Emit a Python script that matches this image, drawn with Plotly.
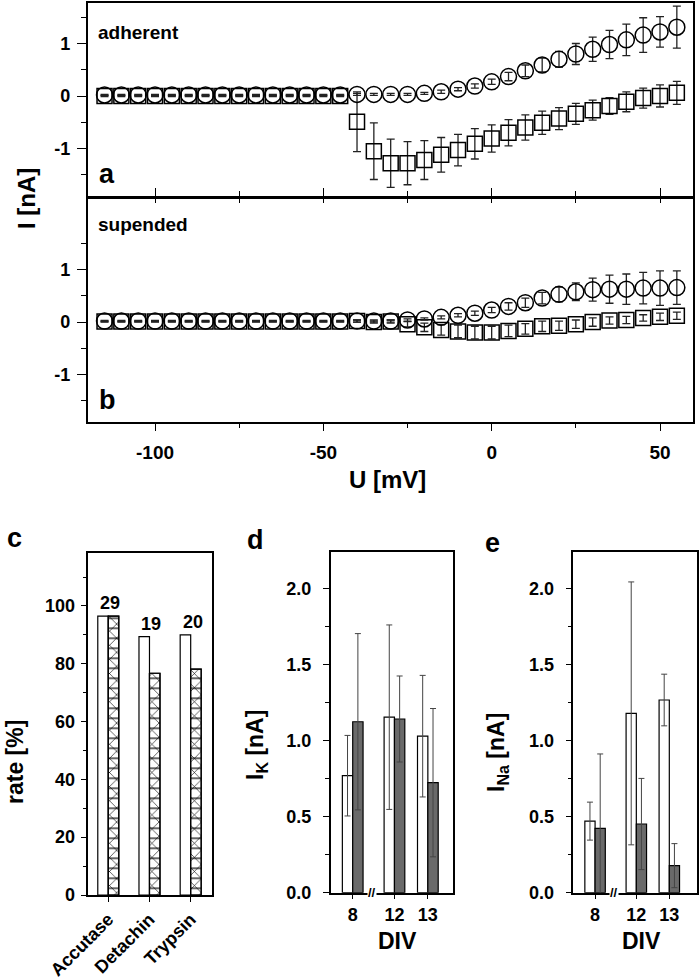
import plotly.graph_objects as go

# ---------------- data ----------------
U_mV = [-115, -110, -105, -100, -95, -90, -85, -80, -75, -70, -65, -60, -55, -50, -45,
        -40, -35, -30, -25, -20, -15, -10, -5, 0, 5, 10, 15, 20, 25, 30, 35, 40, 45, 50, 55]
U_ticks = [-100, -50, 0, 50]
U_ticktext = ["-100", "-50", "0", "50"]
I_ticks = [-1, 0, 1]
I_ticktext = ["-1", "0", "1"]

adh_circle = [0.02, 0.02, 0.02, 0.02, 0.02, 0.02, 0.02, 0.02, 0.02, 0.02, 0.02, 0.02, 0.02, 0.02, 0.02,
              0.03, 0.03, 0.03, 0.03, 0.05, 0.08, 0.13, 0.19, 0.27, 0.37, 0.48, 0.59, 0.70, 0.80, 0.89,
              0.98, 1.07, 1.16, 1.22, 1.31]
adh_circle_err = [0.01, 0.01, 0.01, 0.01, 0.01, 0.01, 0.01, 0.01, 0.01, 0.01, 0.01, 0.01, 0.01, 0.01, 0.01,
                  0.02, 0.02, 0.02, 0.02, 0.02, 0.03, 0.03, 0.04, 0.05, 0.08, 0.11, 0.13, 0.15, 0.20, 0.23,
                  0.27, 0.30, 0.33, 0.29, 0.40]
adh_square = [0.0, 0.0, 0.0, 0.0, 0.0, 0.0, 0.0, 0.0, 0.0, 0.0, 0.0, 0.0, 0.0, 0.0, 0.0,
              -0.49, -1.05, -1.28, -1.28, -1.22, -1.12, -1.03, -0.91, -0.81, -0.70, -0.60, -0.51, -0.43,
              -0.34, -0.27, -0.19, -0.11, -0.04, 0.0, 0.06]
adh_square_err = [0.01, 0.01, 0.01, 0.01, 0.01, 0.01, 0.01, 0.01, 0.01, 0.01, 0.01, 0.01, 0.01, 0.01, 0.01,
                  0.57, 0.54, 0.46, 0.41, 0.37, 0.33, 0.30, 0.29, 0.26, 0.25, 0.24, 0.22, 0.21, 0.20, 0.19,
                  0.16, 0.19, 0.19, 0.21, 0.22]

sus_circle = [0.02, 0.02, 0.02, 0.02, 0.02, 0.02, 0.02, 0.02, 0.02, 0.02, 0.02, 0.02, 0.02, 0.02, 0.02,
              0.02, 0.02, 0.02, 0.04, 0.06, 0.09, 0.13, 0.17, 0.23, 0.30, 0.37, 0.46, 0.53, 0.58, 0.62,
              0.63, 0.63, 0.65, 0.65, 0.66]
sus_circle_err = [0.01, 0.01, 0.01, 0.01, 0.01, 0.01, 0.01, 0.01, 0.01, 0.01, 0.01, 0.01, 0.01, 0.01, 0.01,
                  0.02, 0.02, 0.02, 0.02, 0.02, 0.03, 0.03, 0.04, 0.05, 0.07, 0.09, 0.11, 0.14, 0.17, 0.22,
                  0.27, 0.29, 0.30, 0.33, 0.32]
sus_square = [0.01, 0.01, 0.01, 0.01, 0.01, 0.01, 0.01, 0.01, 0.01, 0.01, 0.01, 0.01, 0.01, 0.01, 0.01,
              0.02, 0.0, 0.01, -0.04, -0.10, -0.15, -0.18, -0.20, -0.20, -0.17, -0.13, -0.08, -0.07, -0.04,
              0.0, 0.03, 0.04, 0.08, 0.10, 0.12]
sus_square_err = [0.01, 0.01, 0.01, 0.01, 0.01, 0.01, 0.01, 0.01, 0.01, 0.01, 0.01, 0.01, 0.01, 0.01, 0.01,
                  0.02, 0.02, 0.03, 0.05, 0.08, 0.10, 0.12, 0.12, 0.12, 0.11, 0.10, 0.10, 0.09, 0.08, 0.08,
                  0.07, 0.07, 0.06, 0.07, 0.07]

methods = ["Accutase", "Detachin", "Trypsin"]
rate_open = [96.5, 89.4, 90.0]
rate_hatched = [96.5, 76.7, 78.1]
n_cells = ["29", "19", "20"]

div_labels = ["8", "12", "13"]
ik_open = [0.77, 1.155, 1.03]
ik_open_err = [0.265, 0.607, 0.40]
ik_dark = [1.125, 1.143, 0.724]
ik_dark_err = [0.58, 0.283, 0.488]
ina_open = [0.471, 1.18, 1.268]
ina_open_err = [0.125, 0.865, 0.17]
ina_dark = [0.423, 0.452, 0.178]
ina_dark_err = [0.49, 0.30, 0.145]

# ---------------- layout helpers ----------------
W, H = 700, 979
def fx(p):
    return p / W
def fy(p):
    return 1 - p / H

slot_pos = [0, 1.25, 2.25]  # broken DIV axis slots
BW = 0.31
BOLD = dict(family="Liberation Sans, Arial, sans-serif", color="black", weight="bold")

fig = go.Figure()

def scatter(x, y, err, symbol, size, xa, ya):
    fig.add_trace(go.Scatter(
        x=x, y=y, mode="markers", xaxis=xa, yaxis=ya, showlegend=False,
        marker=dict(symbol=symbol, size=size, color="black", line=dict(width=1.5, color="black")),
        error_y=dict(type="data", array=err, color="#222", thickness=1.3, width=4)))

scatter(U_mV, adh_square, adh_square_err, "square-open", 15, "x", "y")
scatter(U_mV, adh_circle, adh_circle_err, "circle-open", 16, "x", "y")
scatter(U_mV, sus_square, sus_square_err, "square-open", 15, "x2", "y2")
scatter(U_mV, sus_circle, sus_circle_err, "circle-open", 16, "x2", "y2")

# panel c
CW = 0.255
fig.add_trace(go.Bar(x=methods, y=rate_open, xaxis="x3", yaxis="y3", offset=-CW, width=CW,
                     marker=dict(color="white", line=dict(color="black", width=1.2)), showlegend=False))
fig.add_trace(go.Bar(x=methods, y=rate_hatched, xaxis="x3", yaxis="y3", offset=0, width=CW,
                     marker=dict(color="white", line=dict(color="black", width=1.2),
                                 pattern=dict(shape="x", size=10, solidity=0.12, fgcolor="black", bgcolor="white")),
                     showlegend=False))
fig.add_trace(go.Bar(x=methods, y=rate_hatched, xaxis="x3", yaxis="y3", offset=0, width=CW,
                     marker=dict(color="rgba(0,0,0,0)", line=dict(color="black", width=1.2),
                                 pattern=dict(shape="-", size=10, solidity=0.12, fgcolor="black",
                                              bgcolor="rgba(0,0,0,0)")),
                     showlegend=False))

# panels d, e
def bars(vals, errs, color, offset, xa, ya):
    fig.add_trace(go.Bar(x=slot_pos, y=vals, xaxis=xa, yaxis=ya, offset=offset, width=BW,
                         marker=dict(color=color, line=dict(color="black", width=1.2)),
                         error_y=dict(type="data", array=errs, color="#444", thickness=1, width=3),
                         showlegend=False))

bars(ik_open, ik_open_err, "white", -BW, "x4", "y4")
bars(ik_dark, ik_dark_err, "#6a6a6a", 0, "x4", "y4")
bars(ina_open, ina_open_err, "white", -BW, "x5", "y5")
bars(ina_dark, ina_dark_err, "#6a6a6a", 0, "x5", "y5")

tickfont = dict(BOLD, size=18)
common = dict(showline=True, linecolor="black", linewidth=1.5, showgrid=False, zeroline=False,
              ticks="outside", tickcolor="black", tickwidth=1.3, automargin=False)

xr_top = [-120, 59.8]
xdom_top = [fx(87.7), fx(693)]
fig.update_layout(
    template="none",
    width=W, height=H, margin=dict(l=0, r=0, t=0, b=0, autoexpand=False),
    paper_bgcolor="white", plot_bgcolor="white", barmode="overlay",
    xaxis=dict(common, domain=xdom_top, range=xr_top, anchor="y", mirror=True,
               tickvals=U_ticks, ticklen=5, showticklabels=False,
               minor=dict(tickvals=[-75, -25, 25], ticklen=5, ticks="outside", tickcolor="black")),
    yaxis=dict(common, domain=[fy(196.7), fy(2.7)], range=[-1.918, 1.777], anchor="x", mirror=True,
               tickvals=I_ticks, ticktext=I_ticktext, ticklen=9, tickfont=tickfont, ticklabelstandoff=3,
               minor=dict(tickvals=[-1.5, -0.5, 0.5, 1.5], ticklen=5, ticks="outside", tickcolor="black")),
    xaxis2=dict(common, domain=xdom_top, range=xr_top, anchor="y2", mirror="ticks",
                tickvals=U_ticks, ticktext=U_ticktext, ticklen=8, tickfont=dict(BOLD, size=19),
                ticklabelstandoff=5,
                minor=dict(tickvals=[-75, -25, 25], ticklen=5, ticks="outside", tickcolor="black")),
    yaxis2=dict(common, domain=[fy(421.7), fy(198.2)], range=[-1.906, 2.37], anchor="x2", mirror=True,
                tickvals=I_ticks, ticktext=I_ticktext, ticklen=9, tickfont=tickfont, ticklabelstandoff=3,
                minor=dict(tickvals=[-1.5, -0.5, 0.5, 1.5], ticklen=5, ticks="outside", tickcolor="black")),
    xaxis3=dict(common, domain=[fx(88.3), fx(211.7)], range=[-0.485, 2.51], anchor="y3", mirror=True,
                type="category", ticklen=5, tickangle=-45, tickfont=dict(BOLD, size=18)),
    yaxis3=dict(common, domain=[fy(895), fy(553.3)], range=[0, 118.2], anchor="x3", mirror=True,
                tickvals=[0, 20, 40, 60, 80, 100], ticklen=6, tickfont=tickfont, ticklabelstandoff=2,
                minor=dict(tickvals=[10, 30, 50, 70, 90, 110], ticklen=4, ticks="outside", tickcolor="black")),
    xaxis4=dict(common, domain=[fx(330.7), fx(453.3)], range=[-0.659, 3.012], anchor="y4", mirror=True,
                tickvals=slot_pos, ticktext=div_labels, ticklen=5, tickfont=tickfont),
    yaxis4=dict(common, domain=[fy(892.7), fy(552.3)], range=[0, 2.24], anchor="x4", mirror=True,
                tickvals=[0, 0.5, 1.0, 1.5, 2.0], tickformat=".1f", ticklen=6, tickfont=tickfont,
                ticklabelstandoff=8,
                minor=dict(tickvals=[0.25, 0.75, 1.25, 1.75], ticklen=4, ticks="outside", tickcolor="black")),
    xaxis5=dict(common, domain=[fx(573.3), fx(696.7)], range=[-0.66, 3.08], anchor="y5", mirror=True,
                tickvals=slot_pos, ticktext=div_labels, ticklen=5, tickfont=tickfont),
    yaxis5=dict(common, domain=[fy(892.7), fy(552.3)], range=[0, 2.24], anchor="x5", mirror=True,
                tickvals=[0, 0.5, 1.0, 1.5, 2.0], tickformat=".1f", ticklen=6, tickfont=tickfont,
                ticklabelstandoff=8,
                minor=dict(tickvals=[0.25, 0.75, 1.25, 1.75], ticklen=4, ticks="outside", tickcolor="black")),
)

ann = []
def paper_text(text, x, y, size, angle=0, xanchor="center", yanchor="middle"):
    ann.append(dict(text=text, x=fx(x), y=fy(y), xref="paper", yref="paper", showarrow=False,
                    textangle=angle, xanchor=xanchor, yanchor=yanchor, font=dict(BOLD, size=size)))

paper_text("adherent", 96, 32, 19, xanchor="left")
paper_text("supended", 96, 225, 19, xanchor="left")
paper_text("a", 107, 174, 27)
paper_text("b", 107, 400, 27)
paper_text("I [nA]", 27, 199, 24, angle=-90)
paper_text("U [mV]", 387, 479, 24)
paper_text("c", 14, 538, 27)
paper_text("d", 255, 540, 27)
paper_text("e", 492, 543, 27)
paper_text("rate [%]", 15, 762, 23, angle=-90)
paper_text("I<sub>K</sub> [nA]", 256, 745, 23, angle=-90)
paper_text("I<sub>Na</sub> [nA]", 497, 753, 23, angle=-90)
paper_text("DIV", 397, 941, 23)
paper_text("DIV", 641, 941, 23)

for m, v, n in zip(methods, rate_open, n_cells):
    ann.append(dict(text=n, x=m, y=v, xref="x3", yref="y3", showarrow=False, xshift=2, yshift=1,
                    yanchor="bottom", font=dict(BOLD, size=18)))

for xa, ya, pos in (("x4", "y4", 0.59), ("x5", "y5", 0.56)):
    ann.append(dict(text="//", x=pos, y=0, xref=xa, yref=ya, showarrow=False, yanchor="middle",
                    font=dict(BOLD, size=13), bgcolor="white", borderpad=0))

fig.update_layout(annotations=ann)
fig.write_html("out.html", config={"displayModeBar": False},
               post_script="document.body.style.margin='0';document.body.style.overflow='hidden';")
